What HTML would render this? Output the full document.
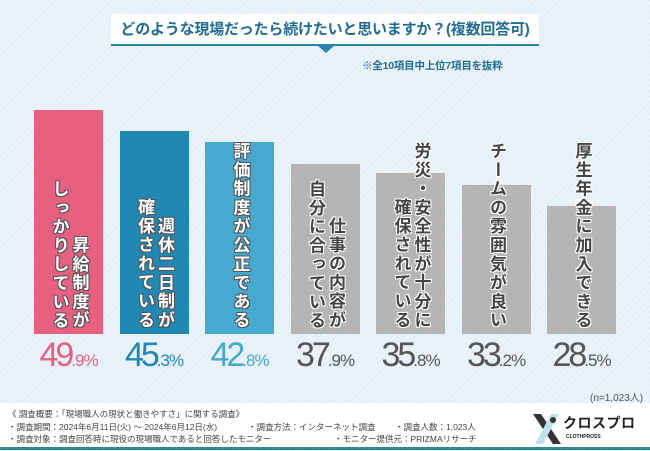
<!DOCTYPE html>
<html><head><meta charset="utf-8">
<style>
*{margin:0;padding:0;box-sizing:border-box}
body{width:650px;height:450px;overflow:hidden;font-family:"Liberation Sans","Noto Sans CJK JP",sans-serif;position:relative;
background:repeating-linear-gradient(135deg,#eaf3f9 0px,#eaf3f9 3px,#e0edf5 3px,#e0edf5 4px);}
.abs{position:absolute}
.title{left:111px;top:14px;width:428px;height:32px;background:#fff;border-bottom:2px solid #2b86ad;color:#1f6d93;font-weight:bold;font-size:15px;text-align:center;line-height:31px;letter-spacing:-0.2px;white-space:nowrap}
.tri{left:318px;top:46px;width:0;height:0;border-left:8px solid transparent;border-right:8px solid transparent;border-top:7px solid #2b86ad}
.note{left:362px;top:58px;font-size:10.5px;color:#1f6d93;font-weight:bold;white-space:nowrap;letter-spacing:-0.2px}
.bar{position:absolute}
.lblwrap{position:absolute;display:flex;justify-content:center;align-items:flex-end}
.lbl{writing-mode:vertical-rl;text-align:end;font-size:17px;line-height:20px;letter-spacing:1.8px;font-weight:bold}
.pct{position:absolute;top:336px;text-align:center;white-space:nowrap}
.pct .big{font-size:34px;letter-spacing:-3px;font-family:"Liberation Sans Narrow","Liberation Sans",sans-serif}
.pct .small{font-size:17px;letter-spacing:-1px;font-family:"Liberation Sans Narrow","Liberation Sans",sans-serif}
.n{left:590px;top:389px;font-size:10px;color:#555;white-space:nowrap}
.footer{left:0;top:403px;width:650px;height:45px;background:#fff}
.line{left:0;top:447px;width:650px;height:3px;background:#2a8a9a}
.ft{font-size:8.5px;color:#444;white-space:nowrap}
</style></head><body>
<div class="abs title">どのような現場だったら続けたいと思いますか？(複数回答可)</div>
<div class="abs tri"></div>
<div class="abs note">※全10項目中上位7項目を抜粋</div>
<div id="chart"></div>
<div class="abs n">(n=1,023人)</div>
<div class="abs footer"></div>
<div class="abs ft" style="left:8px;top:408px">《 調査概要：「現場職人の現状と働きやすさ」に関する調査》</div>
<div class="abs ft" style="left:8px;top:421px">・調査期間：2024年6月11日(火) ～ 2024年6月12日(水)</div>
<div class="abs ft" style="left:248px;top:421px">・調査方法：インターネット調査</div>
<div class="abs ft" style="left:395px;top:421px">・調査人数：1,023人</div>
<div class="abs ft" style="left:8px;top:433px">・調査対象：調査回答時に現役の現場職人であると回答したモニター</div>
<div class="abs ft" style="left:334px;top:433px">・モニター提供元：PRIZMAリサーチ</div>
<div class="abs" style="left:533px;top:412px;width:30px;height:34px">
<svg width="30" height="34"><polygon points="0,2 8,2 28,32 20,32" fill="#333"/><polygon points="18,2 26,2 10,32 2,32" fill="#bfe3ee"/><circle cx="20" cy="8" r="3" fill="#333"/></svg></div>
<div class="abs" style="left:563px;top:413px;font-size:14px;font-weight:bold;color:#222;letter-spacing:0.5px;white-space:nowrap">クロスプロ</div>
<div class="abs" style="left:566px;top:434px;font-size:5px;font-weight:bold;color:#222;white-space:nowrap">CLOTHPROSS</div>
<div class="abs line"></div>
<script>
const categories=["昇給制度が|しっかりしている","週休二日制が|確保されている","評価制度が公正である","仕事の内容が|自分に合っている","労災・安全性が十分に|確保されている","チームの雰囲気が良い","厚生年金に加入できる"];
const values=[49.9,45.3,42.8,37.9,35.8,33.2,28.5];
const barColors=["#e8607f","#1f88b4","#45a9d0","#b5b5b5","#b5b5b5","#b5b5b5","#b5b5b5"];
const pctColors=["#e8607f","#1f88b4","#45a9d0","#555","#555","#555","#555"];
const baseY=334, pxPer=4.49, x0=34, step=85.5, bw=69;
function yScale(v){return baseY-v*pxPer;}
function xScale(i){return x0+i*step;}
const chart=document.getElementById('chart');
values.forEach((v,i)=>{
  const b=document.createElement('div');
  
  
  b.className='bar';
  const top=yScale(v);
  b.style.cssText=`left:${xScale(i)}px;top:${top}px;width:${bw}px;height:${baseY-top}px;background:${barColors[i]}`;
  chart.appendChild(b);
  const w=document.createElement('div');
  w.className='lblwrap';
  w.style.cssText=`left:${xScale(i)}px;top:60px;width:${bw}px;height:270px`;
  const l=document.createElement('div');
  
  
  l.className='lbl';
  const light=i<3;
  l.style.color=light?'#fff':'#444';
  l.style.textShadow=light?`1px 1px 0 #555,-1px -1px 0 #555,1px -1px 0 #555,-1px 1px 0 #555`:'1px 1px 0 #fff,-1px -1px 0 #fff,1px -1px 0 #fff,-1px 1px 0 #fff';
  l.innerHTML=categories[i].split('|').join('<br>');
  w.appendChild(l);chart.appendChild(w);
  const p=document.createElement('div');
  
  
  p.className='pct';
  const s=v.toFixed(1).split('.');
  p.style.cssText=`left:${xScale(i)-10}px;width:${bw+20}px;color:${pctColors[i]}`;
  p.innerHTML=`<span class="big">${s[0]}</span><span class="small">.${s[1]}%</span>`;
  chart.appendChild(p);
});
</script>
</body></html>
